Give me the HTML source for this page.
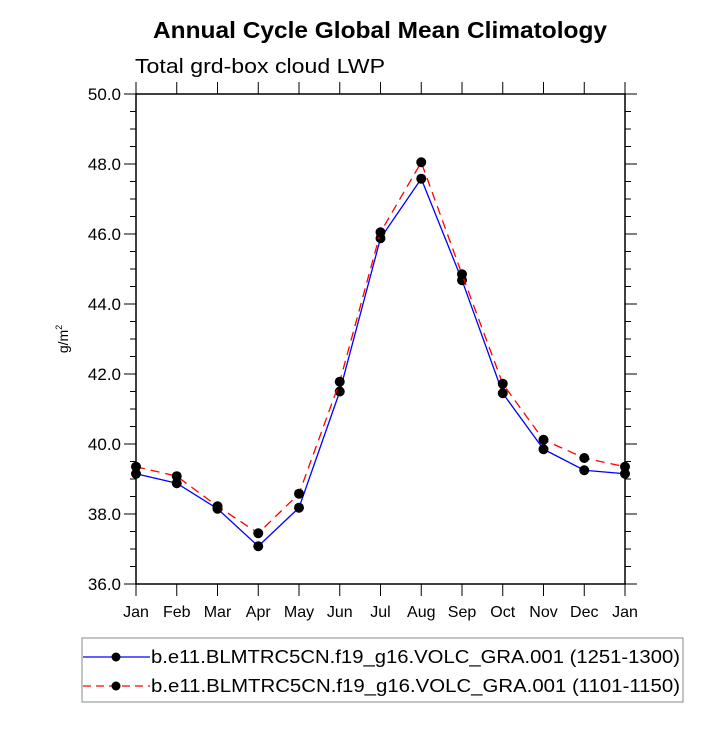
<!DOCTYPE html>
<html><head><meta charset="utf-8"><style>
body{margin:0;background:#fff;}
svg text{font-family:"Liberation Sans",Arial,sans-serif;}
</style></head><body>
<svg id="chart" width="725" height="725" viewBox="0 0 725 725">
<text x="153" y="38" font-size="23" font-weight="bold" textLength="454" lengthAdjust="spacingAndGlyphs">Annual Cycle Global Mean Climatology</text>
<text x="135" y="73" font-size="20" textLength="250" lengthAdjust="spacingAndGlyphs">Total grd-box cloud LWP</text>
<text transform="translate(68,339) rotate(-90)" text-anchor="middle" font-size="14">g/m<tspan dy="-6" font-size="9">2</tspan></text>
<g id="axes"></g>
<g id="series"></g>
<rect x="82" y="638" width="601" height="64" fill="none" stroke="#888" stroke-width="1"/>
<g>
<line x1="83" y1="657" x2="150" y2="657" stroke="#0000ff" stroke-width="1.2"/>
<circle cx="116" cy="657" r="4.5" fill="#000"/>
<text x="151" y="663" font-size="18" textLength="529" lengthAdjust="spacingAndGlyphs">b.e11.BLMTRC5CN.f19_g16.VOLC_GRA.001 (1251-1300)</text>
</g>
<g>
<line x1="83" y1="686" x2="150" y2="686" stroke="#ff0000" stroke-width="1.2" stroke-dasharray="8,5"/>
<circle cx="116" cy="686" r="4.5" fill="#000"/>
<text x="151" y="692" font-size="18" textLength="529" lengthAdjust="spacingAndGlyphs">b.e11.BLMTRC5CN.f19_g16.VOLC_GRA.001 (1101-1150)</text>
</g>
</svg>
<script>
const months = ["Jan","Feb","Mar","Apr","May","Jun","Jul","Aug","Sep","Oct","Nov","Dec","Jan"];
const seriesA = [39.15,38.88,38.15,37.08,38.18,41.5,45.88,47.58,44.68,41.45,39.85,39.25,39.15];
const seriesB = [39.35,39.08,38.22,37.45,38.58,41.78,46.05,48.05,44.85,41.72,40.12,39.6,39.35];
const yTicks = [36,38,40,42,44,46,48,50];
const NS="http://www.w3.org/2000/svg";
const L=136,R=625,T=94,B=584,ymin=36,ymax=50;
function xs(i){return L+(R-L)*i/(months.length-1);}
function ys(v){return B-(B-T)*(v-ymin)/(ymax-ymin);}
function mk(tag,attrs,parent){const e=document.createElementNS(NS,tag);for(const k in attrs)e.setAttribute(k,attrs[k]);parent.appendChild(e);return e;}
const ax=document.getElementById('axes');
const frame=mk('rect',{x:L,y:T,width:R-L,height:B-T,fill:'none',stroke:'#000','stroke-width':1.5},ax);


for(let v=ymin;v<=ymax+0.001;v+=0.5){
  const y=ys(v);const major=Math.abs(v-Math.round(v/2)*2)<0.001;
  const len=major?12:6;
  mk('line',{x1:L-len,y1:y,x2:L,y2:y,stroke:'#000','stroke-width':1},ax);
  mk('line',{x1:R,y1:y,x2:R+len,y2:y,stroke:'#000','stroke-width':1},ax);
}
yTicks.forEach(v=>{
  const t=mk('text',{x:L-15,y:ys(v)+6,'text-anchor':'end','font-size':17},ax);
  t.textContent=v.toFixed(1);
  
  
});
months.forEach((m,i)=>{
  const x=xs(i);
  mk('line',{x1:x,y1:B,x2:x,y2:B+12,stroke:'#000','stroke-width':1},ax);
  mk('line',{x1:x,y1:T-12,x2:x,y2:T,stroke:'#000','stroke-width':1},ax);
  const t=mk('text',{x:x,y:B+33,'text-anchor':'middle','font-size':16},ax);
  t.textContent=m;
  
  
});
const sg=document.getElementById('series');
function draw(vals,color,dash,name){
  const g=mk('g',{},sg);
  
  
  const pts=vals.map((v,i)=>xs(i)+','+ys(v)).join(' ');
  const a={points:pts,fill:'none',stroke:color,'stroke-width':1.3};
  if(dash)a['stroke-dasharray']=dash;
  mk('polyline',a,g);
  vals.forEach((v,i)=>{
    const c=mk('circle',{cx:xs(i),cy:ys(v),r:5,fill:'#000'},g);
    
    
  });
}
draw(seriesA,'#0000ff',null,'series-1251-1300');
draw(seriesB,'#ff0000','9,6','series-1101-1150');
</script>
</body></html>
